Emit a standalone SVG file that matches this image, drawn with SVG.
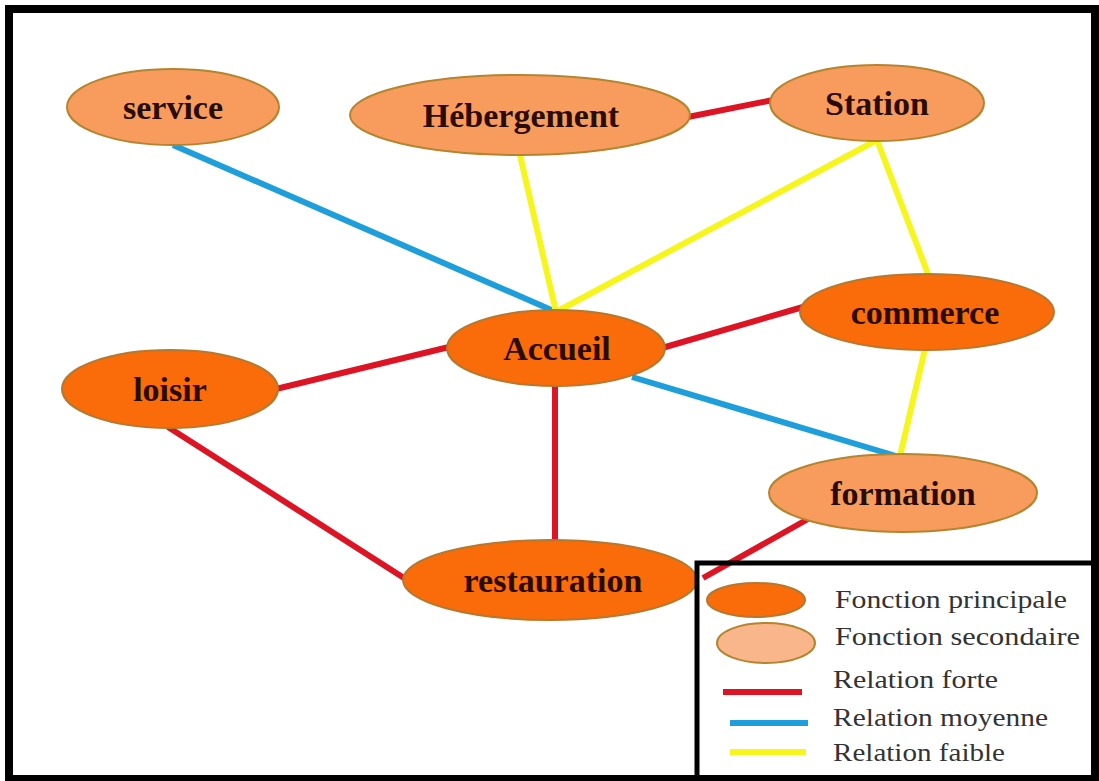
<svg xmlns="http://www.w3.org/2000/svg" width="1099" height="781" viewBox="0 0 1099 781">
<style>
.p{fill:#FA6B0A;stroke:#B5782E;stroke-width:2}
.s{fill:#F89C5E;stroke:#B5842E;stroke-width:2}
.t{font-family:"Liberation Serif","Times New Roman",serif;font-weight:bold;font-size:34px;fill:#2A0C06;text-anchor:middle}
.lt{font-family:"Liberation Serif","Times New Roman",serif;font-size:26px;fill:#333333}
.r{stroke:#DD1424;stroke-width:6;fill:none}
.b{stroke:#1E9FDC;stroke-width:6;fill:none}
.y{stroke:#F6F51C;stroke-width:6;fill:none}
</style>
<rect x="0" y="0" width="1099" height="781" fill="#FFFFFF"/>
<g id="connectors">
<line class="b" x1="173" y1="145" x2="556" y2="312"/>
<line class="y" x1="520" y1="155" x2="556" y2="312"/>
<line class="y" x1="877" y1="140" x2="556" y2="312"/>
<line class="r" x1="688" y1="117" x2="773" y2="100"/>
<line class="y" x1="877" y1="140" x2="928" y2="274"/>
<line class="r" x1="662" y1="348" x2="803" y2="307"/>
<line class="r" x1="276" y1="389" x2="449" y2="347"/>
<line class="b" x1="632" y1="377" x2="896" y2="456"/>
<line class="y" x1="925" y1="349" x2="900" y2="456"/>
<line class="r" x1="555" y1="385" x2="555" y2="541"/>
<line class="r" x1="168" y1="427" x2="404" y2="578"/>
<line class="r" x1="808" y1="519" x2="703" y2="578"/>
</g>
<g id="service"><ellipse class="s" cx="173" cy="107" rx="106" ry="38"/><text class="t" x="173" y="119">service</text></g>
<g id="hebergement"><ellipse class="s" cx="520" cy="115" rx="170" ry="40"/><text class="t" x="521" y="127">Hébergement</text></g>
<g id="station"><ellipse class="s" cx="877" cy="103" rx="107" ry="38"/><text class="t" x="877" y="115">Station</text></g>
<g id="commerce"><ellipse class="p" cx="927" cy="312" rx="127" ry="38"/><text class="t" x="925" y="324">commerce</text></g>
<g id="accueil"><ellipse class="p" cx="556" cy="348" rx="109" ry="38"/><text class="t" x="557" y="360">Accueil</text></g>
<g id="loisir"><ellipse class="p" cx="170" cy="389" rx="108" ry="39"/><text class="t" x="170" y="401">loisir</text></g>
<g id="formation"><ellipse class="s" cx="903" cy="493" rx="134" ry="39"/><text class="t" x="903" y="505">formation</text></g>
<g id="restauration"><ellipse class="p" cx="550" cy="580" rx="147" ry="40"/><text class="t" x="553" y="592">restauration</text></g>
<g id="legend">
<rect x="697" y="563" width="398" height="216" fill="none" stroke="#000000" stroke-width="5"/>
<ellipse class="p" cx="756" cy="600" rx="49" ry="17"/>
<ellipse class="s" cx="766" cy="643" rx="49" ry="20" style="fill:#F9B68A"/>
<line class="r" x1="723" y1="692" x2="802" y2="692"/>
<line class="b" x1="730" y1="723" x2="808" y2="723"/>
<line class="y" x1="730" y1="752" x2="806" y2="752"/>
<text class="lt" x="835" y="608" textLength="232" lengthAdjust="spacingAndGlyphs">Fonction principale</text>
<text class="lt" x="835" y="645" textLength="245" lengthAdjust="spacingAndGlyphs">Fonction secondaire</text>
<text class="lt" x="833" y="688" textLength="165" lengthAdjust="spacingAndGlyphs">Relation forte</text>
<text class="lt" x="833" y="726" textLength="215" lengthAdjust="spacingAndGlyphs">Relation moyenne</text>
<text class="lt" x="833" y="761" textLength="172" lengthAdjust="spacingAndGlyphs">Relation faible</text>
</g>
<rect x="9" y="9" width="1086" height="770" fill="none" stroke="#000000" stroke-width="8"/>
</svg>
